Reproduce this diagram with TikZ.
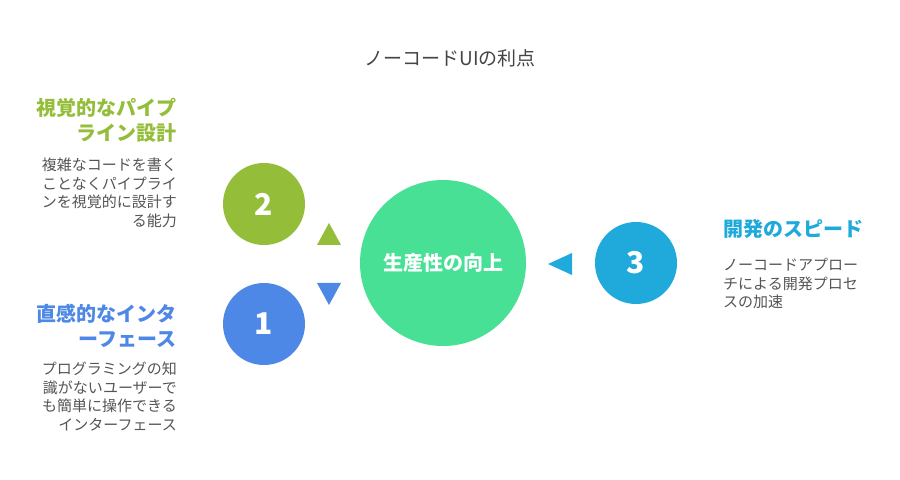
\documentclass[tikz,border=0pt]{standalone}
\usepackage{fontspec}
\setmainfont{Noto Sans CJK JP}
\definecolor{cgreen}{HTML}{47E095}
\definecolor{colive}{HTML}{94BE3A}
\definecolor{cblue}{HTML}{4E88E6}
\definecolor{ccyan}{HTML}{1FAADB}
\definecolor{ctext}{HTML}{555555}
\definecolor{ctitle}{HTML}{444444}
\begin{document}
\begin{tikzpicture}[x=1bp,y=-1bp,
  numcirc/.style={circle,minimum size=82bp,inner sep=0pt,text=white,font=\fontsize{30bp}{30bp}\selectfont\bfseries},
  headR/.style={anchor=north east,align=right,inner sep=0pt,font=\fontsize{20bp}{25bp}\selectfont\bfseries},
  headL/.style={anchor=north west,align=left,inner sep=0pt,font=\fontsize{20bp}{25bp}\selectfont\bfseries},
  descR/.style={anchor=north east,align=right,inner sep=0pt,text=ctext,font=\fontsize{15bp}{18.5bp}\selectfont},
  descL/.style={anchor=north west,align=left,inner sep=0pt,text=ctext,font=\fontsize{15bp}{18.5bp}\selectfont}]
\useasboundingbox (0,0) rectangle (900,480);
\fill[white] (0,0) rectangle (900,480);
\node[text=ctitle,font=\fontsize{19bp}{19bp}\selectfont] (title) at (450,58) {ノーコードUIの利点};
\node[circle,fill=cgreen,minimum size=166bp,inner sep=0pt,text=white,font=\fontsize{20bp}{20bp}\selectfont\bfseries] (center) at (443,263) {生産性の向上};
\node[numcirc,fill=colive] (c2) at (264,204) {2};
\node[numcirc,fill=cblue] (c1) at (264,324) {1};
\node[numcirc,fill=ccyan] (c3) at (636,263) {3};
\fill[colive] (317,245) -- (341,245) -- (329,223) -- cycle;
\fill[cblue] (317,283) -- (341,283) -- (329,305) -- cycle;
\fill[ccyan] (572,253) -- (572,275) -- (548,264) -- cycle;
\node[headR,text=colive] (h2) at (177,98) {視覚的なパイプ\\ライン設計};
\node[descR] (d2) at (177,158) {複雑なコードを書く\\ことなくパイプライ\\ンを視覚的に設計す\\る能力};
\node[headR,text=cblue] (h1) at (177,304) {直感的なインタ\\ーフェース};
\node[descR] (d1) at (177,362) {プログラミングの知\\識がないユーザーで\\も簡単に操作できる\\インターフェース};
\node[headL,text=ccyan] (h3) at (723,219) {開発のスピード};
\node[descL] (d3) at (723,258) {ノーコードアプロー\\チによる開発プロセ\\スの加速};
\end{tikzpicture}
\end{document}
